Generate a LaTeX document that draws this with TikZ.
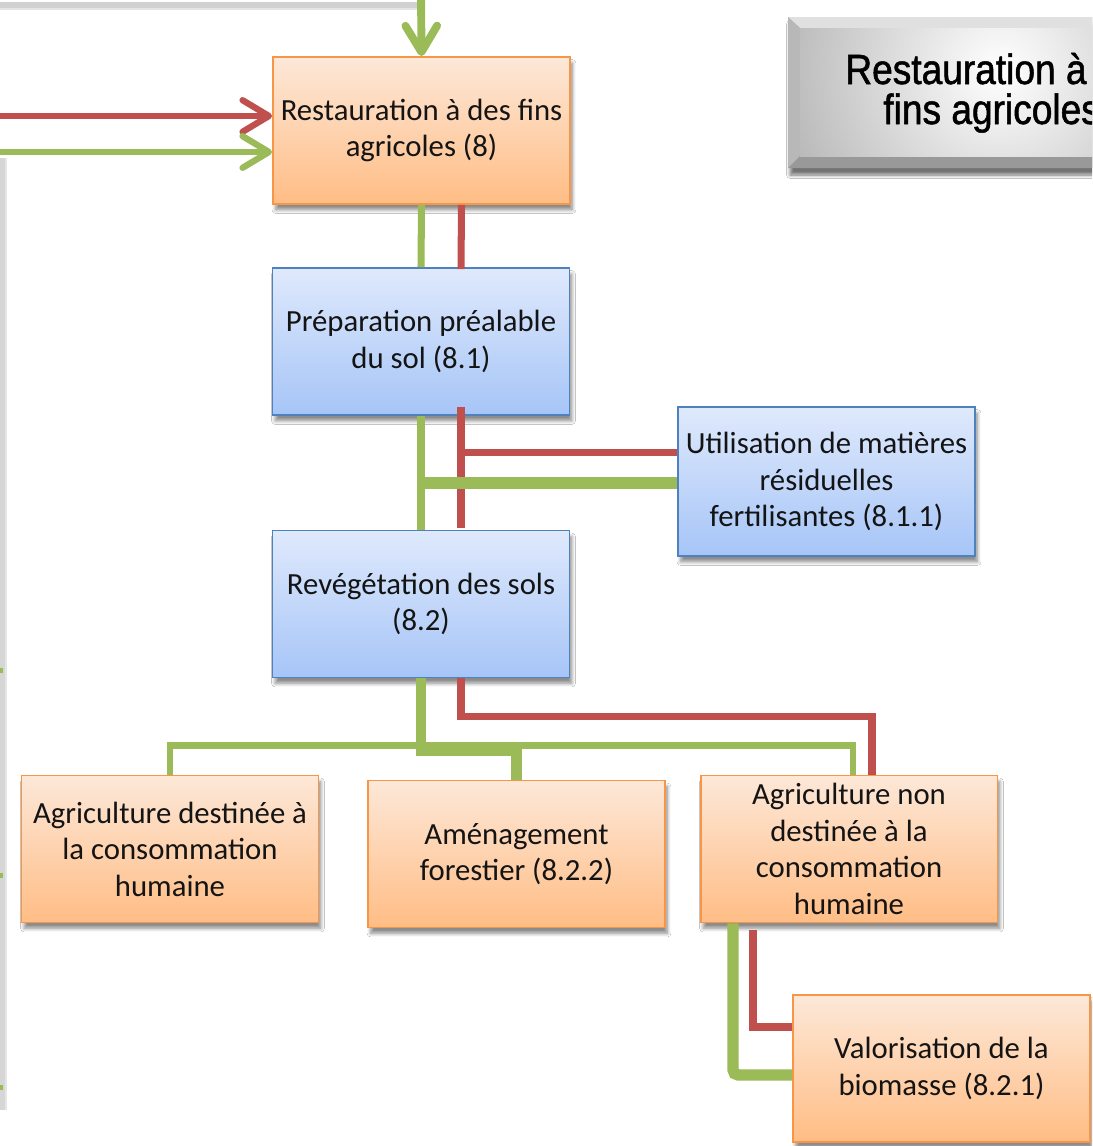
\documentclass[tikz,border=0pt]{standalone}
\usepackage{fontspec}
\setmainfont{Carlito}
\newfontfamily\titlefont[FakeStretch=0.88,FakeBold=1.2]{Liberation Sans}
\usetikzlibrary{arrows.meta,calc,shadows.blur}
\definecolor{gr}{HTML}{9BBB59}
\definecolor{rd}{HTML}{C0504D}
\definecolor{orT}{HTML}{FDE8D8}
\definecolor{orB}{HTML}{FFBD85}
\definecolor{orD}{HTML}{F79646}
\definecolor{blT}{HTML}{DFE9FC}
\definecolor{blB}{HTML}{A6C5F7}
\definecolor{blD}{HTML}{4F81BD}
\begin{document}
\begin{tikzpicture}[x=0.02cm,y=-0.02cm,
 boxbase/.style={rectangle, minimum width=5.94cm, minimum height=2.94cm, inner sep=0pt, align=center,
   font=\fontsize{17.5pt}{20.8pt}\selectfont, text=black!92, line width=1.1pt,
   blur shadow={shadow xshift=0.05cm, shadow yshift=-0.12cm, shadow opacity=45, shadow blur steps=8}},
 orbox/.style={boxbase, draw=orD, top color=orT, bottom color=orB},
 blbox/.style={boxbase, draw=blD, top color=blT, bottom color=blB},
 gline/.style={draw=gr, line width=4pt},
 gthick/.style={draw=gr, line width=6.5pt},
 rline/.style={draw=rd, line width=4pt},
 barb/.style={-{Straight Barb[length=15pt,width=18pt,round]}},
 ttl/.style={anchor=base west, inner sep=0pt, font=\titlefont\fontsize{24pt}{28pt}\selectfont, text=black},
]
\useasboundingbox (0,0) rectangle (1092,1146);
\clip (0,0) rectangle (1092,1146);
\fill[white] (0,0) rectangle (1092,1146);

% shadows of lines running outside the frame
\draw[line width=5pt, draw=black!10] (0,6) -- (418,6);
\draw[line width=3pt, draw=black!18] (0,5) -- (418,5);
\draw[line width=5pt, draw=black!10] (3,158) -- (3,1110);
\draw[line width=3pt, draw=black!16] (2,158) -- (2,1110);
\fill[gr] (0,668) rectangle (3,673);
\fill[gr] (0,873) rectangle (3,878);
\fill[gr] (0,1085) rectangle (3,1090);

% title box
\path[fill=black!35, blur shadow={shadow xshift=0.04cm, shadow yshift=-0.14cm, shadow opacity=55, shadow blur steps=8}] (788,17) rectangle (1120,168);
\fill[black!12] (788,17) -- (1120,17) -- (1108,28) -- (800,28) -- cycle;
\fill[black!28] (788,17) -- (800,28) -- (800,156) -- (788,168) -- cycle;
\fill[black!40] (788,168) -- (800,156) -- (1108,156) -- (1120,168) -- cycle;
\begin{scope}
\clip (800,28) rectangle (1108,156);
\shade[inner color=white, outer color=black!30] (1000,70) circle (240);
\end{scope}
\node[ttl] (t1) at (845,84) {Restauration à};
\node[ttl] (t2) at (883,124) {fins agricoles};

% boxes
\node[orbox] (r8) at (421.5,130.5) {Restauration à des fins\\agricoles (8)};
\node[blbox] (prep) at (421,341.5) {Préparation préalable\\du sol (8.1)};
\node[blbox, minimum height=2.98cm] (util) at (826.5,481.5) {Utilisation de matières\\résiduelles\\fertilisantes (8.1.1)};
\node[blbox] (rev) at (421,604) {Revégétation des sols\\(8.2)};
\node[orbox] (ah) at (170,849) {Agriculture destinée à\\la consommation\\humaine};
\node[orbox] (am) at (516.5,854) {Aménagement\\forestier (8.2.2)};
\node[orbox] (an) at (849,849) {Agriculture non\\destinée à la\\consommation\\humaine};
\node[orbox] (val) at (941.5,1068.5) {Valorisation de la\\biomasse (8.2.1)};

% incoming arrows
\coordinate (topin) at (421,-10);
\draw[gline, line width=4.5pt, barb] (topin) -- (r8.north);
\coordinate (redin) at (-10,116);
\draw[rline, line width=3.6pt, barb] (redin) -- (redin -| r8.west);
\coordinate (grin) at (-10,152);
\draw[gline, line width=3.6pt, barb] (grin) -- (grin -| r8.west);

% R8 -> prep
\draw[gline] (r8.south) -- (prep.north);
\draw[rline] ($(r8.south)+(40,0)$) -- ($(prep.north)+(40,2)$);

% prep -> rev and util
\draw[gline, line width=4.5pt] (prep.south) -- (rev.north);
\draw[rline] ($(prep.south)+(40,-9)$) -- ($(rev.north)+(40,-2)$);
\coordinate (rj) at ($(prep.south)+(40,37)$);
\draw[rline] (rj) -- (rj -| util.west);
\coordinate (gj) at ($(prep.south)+(-4,67)$);
\draw[gthick] (gj) -- (gj -| util.west);

% rev -> children
\coordinate (bus) at ($(rev.south)+(0,67)$);
\draw[gline, line width=3.8pt] (ah.north) |- (bus) -| ($(an.north)+(4,0)$);
\draw[gthick, line width=5.8pt] (rev.south) -- ($(rev.south)+(0,72)$) -| (am.north);
\draw[rline] ($(rev.south)+(40,0)$) -- ($(rev.south)+(40,38)$) -| ($(an.north)+(23,0)$);

% an -> val
\draw[gthick, rounded corners=3pt] ($(an.south)+(-116,0)$) |- ($(val.west)+(0,6.5)$);
\draw[rline] ($(an.south)+(-96,7)$) |- ($(val.west)+(0,-41.5)$);
\end{tikzpicture}
\end{document}
